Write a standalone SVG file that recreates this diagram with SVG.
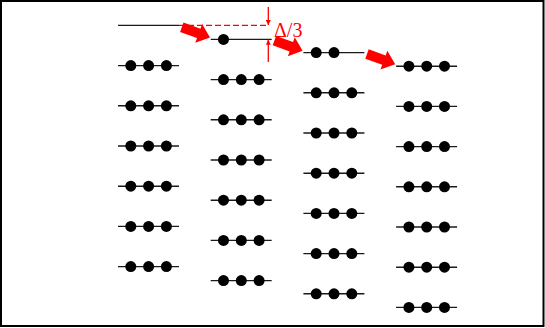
<svg xmlns="http://www.w3.org/2000/svg" xmlns:xlink="http://www.w3.org/1999/xlink" width="545" height="328" viewBox="0 0 545 328">
  <style>
    .ln { stroke: #1a1a1a; stroke-width: 1.4; fill: none; }
    .dot { fill: #000; }
    .fat { fill: #ff0000; }
    .dash { stroke: #ff0000; stroke-width: 1.2; stroke-dasharray: 6 3; fill: none; }
    .dim { stroke: #ff0000; stroke-width: 1.3; fill: none; }
    .lbl { font-family: "Liberation Serif", "Times New Roman", serif; font-size: 20px; fill: #ff0000; }
  </style>
  <defs>
    <marker id="ah" viewBox="0 0 10 10" refX="10" refY="5" markerWidth="6" markerHeight="5" markerUnits="userSpaceOnUse" orient="auto">
      <path d="M0,0 L10,5 L0,10 Z" fill="#ff0000"/>
    </marker>
    <g id="row0">
      <line class="ln" x1="0" y1="0" x2="61" y2="0"/>
    </g>
    <g id="row1">
      <line class="ln" x1="0" y1="0" x2="61" y2="0"/>
      <circle class="dot" cx="12.8" cy="0" r="5.5"/>
    </g>
    <g id="row2">
      <line class="ln" x1="0" y1="0" x2="61" y2="0"/>
      <circle class="dot" cx="12.8" cy="0" r="5.5"/>
      <circle class="dot" cx="30.6" cy="0" r="5.5"/>
    </g>
    <g id="row3">
      <line class="ln" x1="0" y1="0" x2="61" y2="0"/>
      <circle class="dot" cx="12.8" cy="0" r="5.5"/>
      <circle class="dot" cx="30.6" cy="0" r="5.5"/>
      <circle class="dot" cx="48.4" cy="0" r="5.5"/>
    </g>
    <path id="fatArrow" class="fat" d="M0,-5 L18,-5 L18,-10 L30,0 L18,10 L18,5 L0,5 Z"/>
  </defs>

  <rect x="1" y="1" width="542.5" height="325" fill="#fff" stroke="#000" stroke-width="2"/>

  <g id="col1">
    <use id="c1r0" xlink:href="#row0" x="118" y="25.4"/>
    <use id="c1r1" xlink:href="#row3" x="118" y="65.6"/>
    <use id="c1r2" xlink:href="#row3" x="118" y="105.8"/>
    <use id="c1r3" xlink:href="#row3" x="118" y="146"/>
    <use id="c1r4" xlink:href="#row3" x="118" y="186.2"/>
    <use id="c1r5" xlink:href="#row3" x="118" y="226.4"/>
    <use id="c1r6" xlink:href="#row3" x="118" y="266.6"/>
  </g>
  <g id="col2">
    <use id="c2r0" xlink:href="#row1" x="210.7" y="39.4"/>
    <use id="c2r1" xlink:href="#row3" x="210.7" y="79.6"/>
    <use id="c2r2" xlink:href="#row3" x="210.7" y="119.8"/>
    <use id="c2r3" xlink:href="#row3" x="210.7" y="160"/>
    <use id="c2r4" xlink:href="#row3" x="210.7" y="200.2"/>
    <use id="c2r5" xlink:href="#row3" x="210.7" y="240.4"/>
    <use id="c2r6" xlink:href="#row3" x="210.7" y="280.6"/>
  </g>
  <g id="col3">
    <use id="c3r0" xlink:href="#row2" x="303.4" y="52.6"/>
    <use id="c3r1" xlink:href="#row3" x="303.4" y="92.8"/>
    <use id="c3r2" xlink:href="#row3" x="303.4" y="133"/>
    <use id="c3r3" xlink:href="#row3" x="303.4" y="173.2"/>
    <use id="c3r4" xlink:href="#row3" x="303.4" y="213.4"/>
    <use id="c3r5" xlink:href="#row3" x="303.4" y="253.6"/>
    <use id="c3r6" xlink:href="#row3" x="303.4" y="293.8"/>
  </g>
  <g id="col4">
    <use id="c4r1" xlink:href="#row3" x="396.1" y="66.2"/>
    <use id="c4r2" xlink:href="#row3" x="396.1" y="106.4"/>
    <use id="c4r3" xlink:href="#row3" x="396.1" y="146.6"/>
    <use id="c4r4" xlink:href="#row3" x="396.1" y="186.8"/>
    <use id="c4r5" xlink:href="#row3" x="396.1" y="227"/>
    <use id="c4r6" xlink:href="#row3" x="396.1" y="267.2"/>
    <use id="c4r7" xlink:href="#row3" x="396.1" y="307.4"/>
  </g>

  <g id="connectors">
    <line class="dash" x1="179" y1="25.4" x2="268.3" y2="25.4"/>
    <line class="dim" x1="268.3" y1="7" x2="268.3" y2="25" marker-end="url(#ah)"/>
    <line class="dim" x1="268.3" y1="62" x2="268.3" y2="39.8" marker-end="url(#ah)"/>
    <use xlink:href="#fatArrow" transform="translate(181.8,27.2) rotate(20)"/>
    <use xlink:href="#fatArrow" transform="translate(274.4,40.6) rotate(20)"/>
    <use xlink:href="#fatArrow" transform="translate(367,54) rotate(20)"/>
  </g>

  <text class="lbl" x="274" y="37">Δ/3</text>
</svg>
